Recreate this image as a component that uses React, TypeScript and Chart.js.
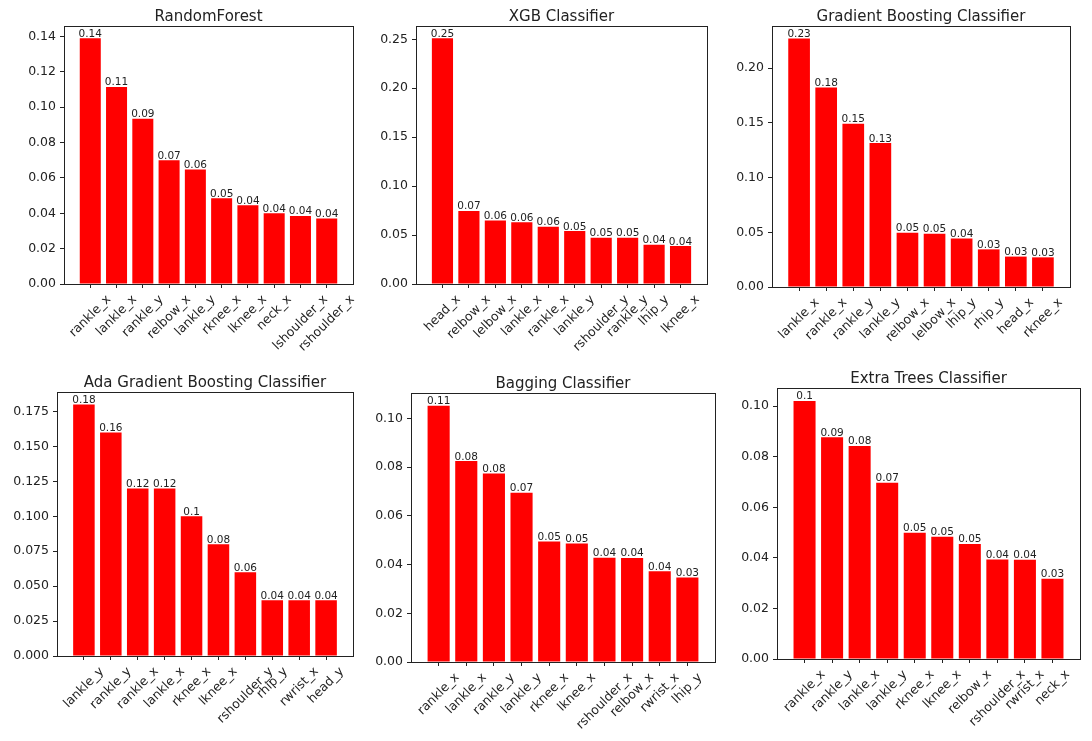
import React, { useEffect, useRef } from 'react';
import { Chart, registerables } from 'chart.js';

Chart.register(...registerables);

const FONT = '"DejaVu Sans", "Liberation Sans", sans-serif';
const TEXT = '#222';
const BAR = '#ff0000';

// RandomForest
const rfLabels = ['rankle_x', 'lankle_x', 'rankle_y', 'relbow_x', 'lankle_y', 'rknee_x', 'lknee_x', 'neck_x', 'lshoulder_x', 'rshoulder_x'];
const rfValues = [0.139, 0.1115, 0.0935, 0.07, 0.0648, 0.0485, 0.0445, 0.04, 0.0385, 0.0371];
const rfTicks = [0, 0.02, 0.04, 0.06, 0.08, 0.1, 0.12, 0.14];

// XGB Classifier
const xgbLabels = ['head_x', 'relbow_x', 'lelbow_x', 'lankle_x', 'rankle_x', 'lankle_y', 'rshoulder_y', 'rankle_y', 'lhip_y', 'lknee_x'];
const xgbValues = [0.251, 0.0746, 0.0648, 0.063, 0.0585, 0.0541, 0.0473, 0.0472, 0.0401, 0.0388];
const xgbTicks = [0, 0.05, 0.1, 0.15, 0.2, 0.25];

// Gradient Boosting Classifier
const gbLabels = ['lankle_x', 'rankle_x', 'rankle_y', 'lankle_y', 'relbow_x', 'lelbow_x', 'lhip_y', 'rhip_y', 'head_x', 'rknee_x'];
const gbValues = [0.2272, 0.1823, 0.1493, 0.1316, 0.0495, 0.0486, 0.0443, 0.0344, 0.0278, 0.0271];
const gbTicks = [0, 0.05, 0.1, 0.15, 0.2];

// Ada Gradient Boosting Classifier
const adaLabels = ['lankle_y', 'rankle_y', 'rankle_x', 'lankle_x', 'rknee_x', 'lknee_x', 'rshoulder_y', 'rhip_y', 'rwrist_x', 'head_y'];
const adaValues = [0.18, 0.16, 0.12, 0.12, 0.1, 0.08, 0.06, 0.04, 0.04, 0.04];
const adaTicks = [0, 0.025, 0.05, 0.075, 0.1, 0.125, 0.15, 0.175];

// Bagging Classifier
const bagLabels = ['rankle_x', 'lankle_x', 'rankle_y', 'lankle_y', 'rknee_x', 'lknee_x', 'rshoulder_x', 'relbow_x', 'rwrist_x', 'lhip_y'];
const bagValues = [0.1052, 0.0825, 0.0774, 0.0695, 0.0495, 0.0487, 0.0428, 0.0427, 0.0373, 0.0347];
const bagTicks = [0, 0.02, 0.04, 0.06, 0.08, 0.1];

// Extra Trees Classifier
const etLabels = ['rankle_x', 'rankle_y', 'lankle_x', 'lankle_y', 'rknee_x', 'lknee_x', 'relbow_x', 'rshoulder_x', 'rwrist_x', 'neck_x'];
const etValues = [0.1021, 0.0877, 0.0843, 0.0697, 0.0499, 0.0484, 0.0455, 0.0394, 0.0393, 0.0317];
const etTicks = [0, 0.02, 0.04, 0.06, 0.08, 0.1];

type Box = { l: number; r: number; t: number; b: number };

const PADL = 56;
const PADT = 24;
const PADR = 10;
const PADB = 72;

function Panel(props: {
  title: string;
  labels: string[];
  values: number[];
  ticks: number[];
  decimals: number;
  box: Box;
}) {
  const { title, labels, values, ticks, decimals, box } = props;
  const ref = useRef<HTMLCanvasElement | null>(null);
  const w = box.r - box.l + PADL + PADR;
  const h = box.b - box.t + PADT + PADB;

  useEffect(() => {
    if (!ref.current) return;
    const n = labels.length;
    const yMax = Math.max(...values) * 1.05;

    const extras = {
      id: 'extras',
      afterDraw(chart: any) {
        const ctx = chart.ctx as CanvasRenderingContext2D;
        const ca = chart.chartArea;
        const xs = chart.scales.x;
        ctx.save();
        // spines
        ctx.strokeStyle = TEXT;
        ctx.lineWidth = 1;
        ctx.strokeRect(Math.round(ca.left) + 0.5, Math.round(ca.top) + 0.5, Math.round(ca.right - ca.left), Math.round(ca.bottom - ca.top));
        // value labels
        ctx.fillStyle = TEXT;
        ctx.font = `10.5px ${FONT}`;
        ctx.textAlign = 'center';
        ctx.textBaseline = 'bottom';
        const meta = chart.getDatasetMeta(0);
        meta.data.forEach((el: any, i: number) => {
          const v = Math.round(values[i] * 100) / 100;
          ctx.fillText(String(v), el.x, el.y + 1);
        });
        // rotated x labels (centered, like matplotlib rotation=45)
        const fs = 12.5;
        ctx.font = `${fs}px ${FONT}`;
        ctx.textAlign = 'center';
        ctx.textBaseline = 'middle';
        const lh = fs * 1.15;
        labels.forEach((lab, i) => {
          const tx = xs.getPixelForValue(i);
          const tw = ctx.measureText(lab).width;
          const y0 = ca.bottom + 8.5;
          const cy = y0 + (tw + lh) / (2 * Math.SQRT2);
          ctx.save();
          ctx.translate(tx, cy);
          ctx.rotate(-Math.PI / 4);
          ctx.fillText(lab, 0, 0);
          ctx.restore();
        });
        // title
        ctx.font = `15px ${FONT}`;
        ctx.textAlign = 'center';
        ctx.textBaseline = 'alphabetic';
        ctx.fillText(title, (ca.left + ca.right) / 2, ca.top - 5.5);
        ctx.restore();
      },
    };

    const chart = new Chart(ref.current, {
      type: 'bar',
      data: {
        datasets: [
          {
            data: values.map((v, i) => ({ x: i, y: v })),
            backgroundColor: BAR,
            borderWidth: 0,
            categoryPercentage: 1,
            barPercentage: 0.8,
          } as any,
        ],
      },
      options: {
        animation: false,
        responsive: false,
        maintainAspectRatio: false,
        layout: { padding: { left: 0, top: PADT, right: PADR, bottom: 0 } },
        plugins: {
          legend: { display: false },
          tooltip: { enabled: false },
          title: { display: false },
        },
        scales: {
          x: {
            type: 'linear',
            min: -1,
            max: n,
            offset: false,
            grid: { display: true, drawOnChartArea: false, offset: false, tickLength: 4, color: TEXT, lineWidth: 1 },
            border: { display: false },
            ticks: { display: false },
            afterBuildTicks: (s: any) => {
              s.ticks = labels.map((_, i) => ({ value: i }));
            },
            afterFit: (s: any) => {
              s.height = PADB;
            },
          },
          y: {
            type: 'linear',
            min: 0,
            max: yMax,
            grid: { display: true, drawOnChartArea: false, tickLength: 4, color: TEXT, lineWidth: 1 },
            border: { display: false },
            ticks: {
              color: TEXT,
              font: { family: FONT, size: 12.5 },
              padding: 4,
              callback: (v: any) => Number(v).toFixed(decimals),
            },
            afterBuildTicks: (s: any) => {
              s.ticks = ticks.map((t) => ({ value: t }));
            },
            afterFit: (s: any) => {
              s.width = PADL;
            },
          },
        } as any,
      },
      plugins: [extras],
    });
    return () => chart.destroy();
  }, []);

  return (
    <canvas
      ref={ref}
      width={w}
      height={h}
      style={{ position: 'absolute', left: box.l - PADL, top: box.t - PADT, width: w, height: h }}
    />
  );
}

export default function App() {
  return (
    <div
      style={{
        position: 'absolute',
        left: 0,
        top: 0,
        width: 1092,
        height: 741,
        overflow: 'hidden',
        background: '#ffffff',
      }}
    >
      <Panel title="RandomForest" labels={rfLabels} values={rfValues} ticks={rfTicks} decimals={2} box={{ l: 64, r: 353, t: 26, b: 284 }} />
      <Panel title="XGB Classifier" labels={xgbLabels} values={xgbValues} ticks={xgbTicks} decimals={2} box={{ l: 416, r: 707, t: 26, b: 284 }} />
      <Panel title="Gradient Boosting Classifier" labels={gbLabels} values={gbValues} ticks={gbTicks} decimals={2} box={{ l: 772, r: 1070, t: 26, b: 287 }} />
      <Panel title="Ada Gradient Boosting Classifier" labels={adaLabels} values={adaValues} ticks={adaTicks} decimals={3} box={{ l: 57, r: 353, t: 392, b: 656 }} />
      <Panel title="Bagging Classifier" labels={bagLabels} values={bagValues} ticks={bagTicks} decimals={2} box={{ l: 411, r: 715, t: 393, b: 662 }} />
      <Panel title="Extra Trees Classifier" labels={etLabels} values={etValues} ticks={etTicks} decimals={2} box={{ l: 777, r: 1080, t: 388, b: 659 }} />
    </div>
  );
}
